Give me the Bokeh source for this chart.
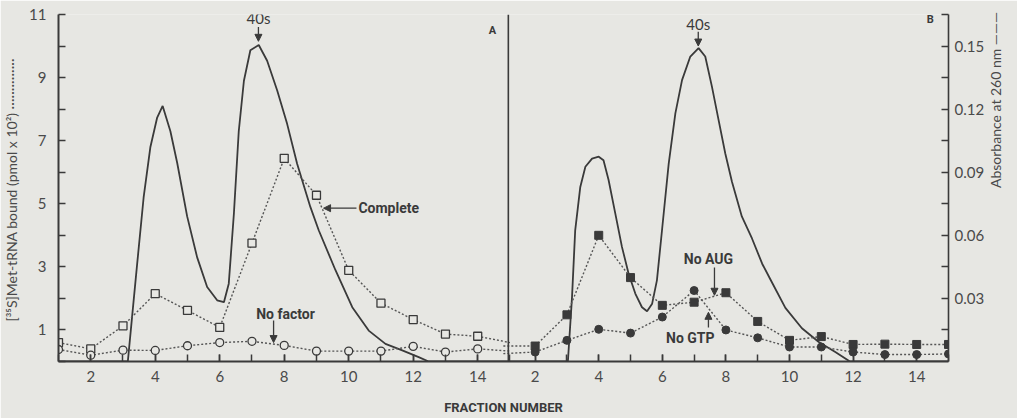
import math
from bokeh.plotting import figure
from bokeh.models import Range1d, LinearAxis, FixedTicker, Span, Label, Arrow, NormalHead
from bokeh.embed import file_html
from bokeh.resources import INLINE

# ---------------- data ----------------
fractions = list(range(1, 16))

# Panel A  ([35S]Met-tRNA bound, pmol x 10^2)
a_complete = [0.60, 0.40, 1.13, 2.15, 1.62, 1.08, 3.75, 6.44, 5.27, 2.89, 1.85, 1.33, 0.87, 0.80, 0.60]
a_no_factor = [0.38, 0.20, 0.36, 0.35, 0.50, 0.60, 0.64, 0.51, 0.33, 0.33, 0.33, 0.48, 0.30, 0.40, 0.33]

# Panel A absorbance trace (A260)
a_abs_fraction = [1.0, 3.15, 3.29, 3.44, 3.64, 3.85, 4.06, 4.23, 4.47, 4.68, 4.99, 5.30, 5.61, 5.92,
                  6.13, 6.28, 6.44, 6.59, 6.75, 6.95, 7.21, 7.47, 7.78, 8.09, 8.40, 8.81, 9.07, 9.59,
                  10.11, 10.62, 11.14, 11.66, 12.17, 12.48, 15.0]
a_abs = [0.0, 0.0, 0.0225, 0.0465, 0.078, 0.102, 0.116, 0.1215, 0.1095, 0.0945, 0.069, 0.0495, 0.0354,
         0.0291, 0.0282, 0.037, 0.0705, 0.1095, 0.1335, 0.148, 0.1505, 0.143, 0.129, 0.113, 0.094,
         0.0735, 0.0624, 0.0434, 0.0258, 0.0147, 0.0084, 0.0053, 0.0021, 0.0, 0.0]

# Panel B
b_no_aug = [0.49, 0.49, 1.48, 4.00, 2.66, 1.78, 1.88, 2.18, 1.27, 0.67, 0.79, 0.54, 0.55, 0.54, 0.54]
b_no_gtp = [0.25, 0.30, 0.67, 1.02, 0.90, 1.41, 2.25, 1.00, 0.75, 0.46, 0.46, 0.30, 0.22, 0.22, 0.24]

b_abs_fraction = [1.16, 3.03, 3.16, 3.26, 3.42, 3.58, 3.79, 4.00, 4.15, 4.31, 4.52, 4.73, 4.94, 5.15,
                  5.36, 5.52, 5.68, 5.83, 5.99, 6.20, 6.41, 6.62, 6.88, 7.14, 7.35, 7.56, 7.77, 7.98,
                  8.19, 8.50, 8.82, 9.14, 9.40, 9.87, 10.39, 10.92, 11.44, 11.90, 15.0]
b_abs = [0.0, 0.0, 0.0306, 0.0624, 0.083, 0.0926, 0.0965, 0.0974, 0.0957, 0.0863, 0.0704, 0.0545,
         0.0417, 0.0323, 0.0258, 0.0239, 0.0275, 0.0386, 0.0624, 0.094, 0.118, 0.1338, 0.145, 0.149,
         0.145, 0.1307, 0.1148, 0.0989, 0.0855, 0.069, 0.0585, 0.0465, 0.039, 0.0255, 0.0158, 0.0093,
         0.0045, 0.0, 0.0]

x_tick_values = [2, 4, 6, 8, 10, 12, 14]
left_ticks = [1, 3, 5, 7, 9, 11]
left_minor = [0, 2, 4, 6, 8, 10]
right_ticks = [0.03, 0.06, 0.09, 0.12, 0.15]
right_minor = [0.015, 0.045, 0.075, 0.105, 0.135, 0.165]

# ---------------- style / layout ----------------
BG = "#e7e7e3"
INK = "#3a3a3a"
DOT = "#555555"
TICK_FONT = "Lato"
BOLD_FONT = "Roboto"

A_RANGE = (1.0, 28.6)      # main x range (panel A fractions)
B_RANGE = (-12.99, 15.0)   # extra x range (panel B fractions)
DIVIDER = 14.95            # panel boundary, in panel-A units

p = figure(frame_width=890, frame_height=347,
           x_range=Range1d(*A_RANGE), y_range=Range1d(0, 11),
           output_backend="svg", toolbar_location=None,
           min_border_left=53, min_border_right=73, min_border_top=14, min_border_bottom=57,
           background_fill_color=BG, border_fill_color=BG, outline_line_color=None)
p.extra_x_ranges = {"B": Range1d(*B_RANGE)}
p.extra_y_ranges = {"abs": Range1d(0, 0.165)}
p.xgrid.visible = False
p.ygrid.visible = False


def b_to_a(g):
    return A_RANGE[0] + (g - B_RANGE[0]) * (A_RANGE[1] - A_RANGE[0]) / (B_RANGE[1] - B_RANGE[0])


def style_axis(ax, width):
    ax.major_tick_in = 7
    ax.major_tick_out = 0
    ax.minor_tick_in = 7
    ax.minor_tick_out = 0
    ax.axis_line_width = width
    ax.axis_line_color = INK
    ax.major_tick_line_color = INK
    ax.minor_tick_line_color = INK
    ax.major_tick_line_width = 1.5
    ax.minor_tick_line_width = 1.5
    ax.major_label_text_font = TICK_FONT
    ax.major_label_text_font_size = "15px"
    ax.major_label_text_color = "#4a4a4a"


# ---- bottom axis (both panels) ----
xa = p.xaxis[0]
style_axis(xa, 2)
b_major = [b_to_a(g) for g in x_tick_values]
a_minor = list(range(1, 16))
b_minor = [b_to_a(g) for g in range(2, 16)]
xa.ticker = FixedTicker(ticks=x_tick_values + b_major, minor_ticks=a_minor + b_minor)
overrides = {}
for g in x_tick_values:
    overrides[float(g)] = str(g)
    overrides[b_to_a(g)] = str(g)
xa.major_label_overrides = overrides
xa.major_label_standoff = 9
xa.axis_label = "FRACTION NUMBER"
xa.axis_label_text_font = BOLD_FONT
xa.axis_label_text_font_style = "bold"
xa.axis_label_text_font_size = "13px"
xa.axis_label_text_color = INK
xa.axis_label_standoff = 15

# ---- left axis ----
ya = p.yaxis[0]
style_axis(ya, 2)
ya.ticker = FixedTicker(ticks=left_ticks, minor_ticks=left_minor)
ya.major_label_standoff = 12
ya.axis_label = ("[\u00b3\u2075S]Met-tRNA bound (pmol x 10\u00b2)  "
                 "\u00b7\u00b7\u00b7\u00b7\u00b7\u00b7\u00b7\u00b7\u00b7\u00b7\u00b7\u00b7\u00b7\u00b7")
ya.axis_label_text_font = TICK_FONT
ya.axis_label_text_font_style = "normal"
ya.axis_label_text_font_size = "14px"
ya.axis_label_text_color = "#4a4a4a"
ya.axis_label_standoff = 6

# ---- right axis ----
ra = LinearAxis(y_range_name="abs")
style_axis(ra, 1.6)
ra.ticker = FixedTicker(ticks=right_ticks, minor_ticks=right_minor)
ra.major_label_standoff = 6
ra.axis_label = "Absorbance   at   260 nm    \u2014\u2014\u2014"
ra.axis_label_text_font = TICK_FONT
ra.axis_label_text_font_style = "normal"
ra.axis_label_text_font_size = "14px"
ra.axis_label_text_color = "#4a4a4a"
ra.axis_label_standoff = 8
if "axis_label_orientation" in LinearAxis.properties():
    ra.axis_label_orientation = math.pi / 2
p.add_layout(ra, "right")

# ---- divider between panels ----
p.add_layout(Span(location=DIVIDER, dimension="height", line_color=INK, line_width=1.6))

# ---- absorbance traces ----
p.line(a_abs_fraction, a_abs, y_range_name="abs", line_color=INK, line_width=1.8)
p.line(b_abs_fraction, b_abs, x_range_name="B", y_range_name="abs", line_color=INK, line_width=1.8)

# ---- panel A radioactivity ----
p.line(fractions, a_complete, line_color=DOT, line_width=1.4, line_dash="2 2")
p.line(fractions, a_no_factor, line_color=DOT, line_width=1.4, line_dash="2 2")
p.scatter(fractions[:14], a_complete[:14], marker="square", size=8,
          fill_color=BG, line_color=INK, line_width=1.3)
p.scatter(fractions[:14], a_no_factor[:14], marker="circle", size=8,
          fill_color=BG, line_color=INK, line_width=1.3)

# ---- panel B radioactivity ----
p.line(fractions, b_no_aug, x_range_name="B", line_color=DOT, line_width=1.4, line_dash="2 2")
p.line(fractions, b_no_gtp, x_range_name="B", line_color=DOT, line_width=1.4, line_dash="2 2")
p.scatter(fractions[1:], b_no_aug[1:], x_range_name="B", marker="square", size=8,
          fill_color=INK, line_color=INK)
p.scatter(fractions[1:], b_no_gtp[1:], x_range_name="B", marker="circle", size=8,
          fill_color=INK, line_color=INK)


# ---- annotations ----
def label(x, y, text, rng="default", bold=True, size="14px", align="center"):
    p.add_layout(Label(x=x, y=y, text=text, x_range_name=rng,
                       text_font=BOLD_FONT if bold else TICK_FONT,
                       text_font_style="bold" if bold else "normal",
                       text_font_size=size, text_color=INK,
                       text_align=align, text_baseline="middle"))


def arrow(x0, y0, x1, y1, rng="default"):
    p.add_layout(Arrow(end=NormalHead(size=7, fill_color=INK, line_color=INK),
                       x_start=x0, y_start=y0, x_end=x1, y_end=y1, x_range_name=rng,
                       line_color=INK, line_width=1.3))


label(7.2, 10.9, "40s", bold=False, size="15px")
arrow(7.2, 10.6, 7.2, 10.15)
label(14.46, 10.5, "A", size="11px")
label(10.3, 4.86, "Complete", align="left")
arrow(10.24, 4.86, 9.22, 4.86)
label(8.04, 1.52, "No factor")
arrow(7.67, 1.3, 7.67, 0.6)

label(7.13, 10.7, "40s", rng="B", bold=False, size="15px")
arrow(7.13, 10.45, 7.13, 10.0, rng="B")
label(14.43, 10.85, "B", rng="B", size="11px")
label(7.45, 3.24, "No AUG", rng="B")
arrow(7.64, 2.98, 7.64, 2.1, rng="B")
label(6.88, 0.73, "No GTP", rng="B")
arrow(7.45, 1.08, 7.45, 1.56, rng="B")

open("out.html", "w").write(file_html(p, INLINE))
